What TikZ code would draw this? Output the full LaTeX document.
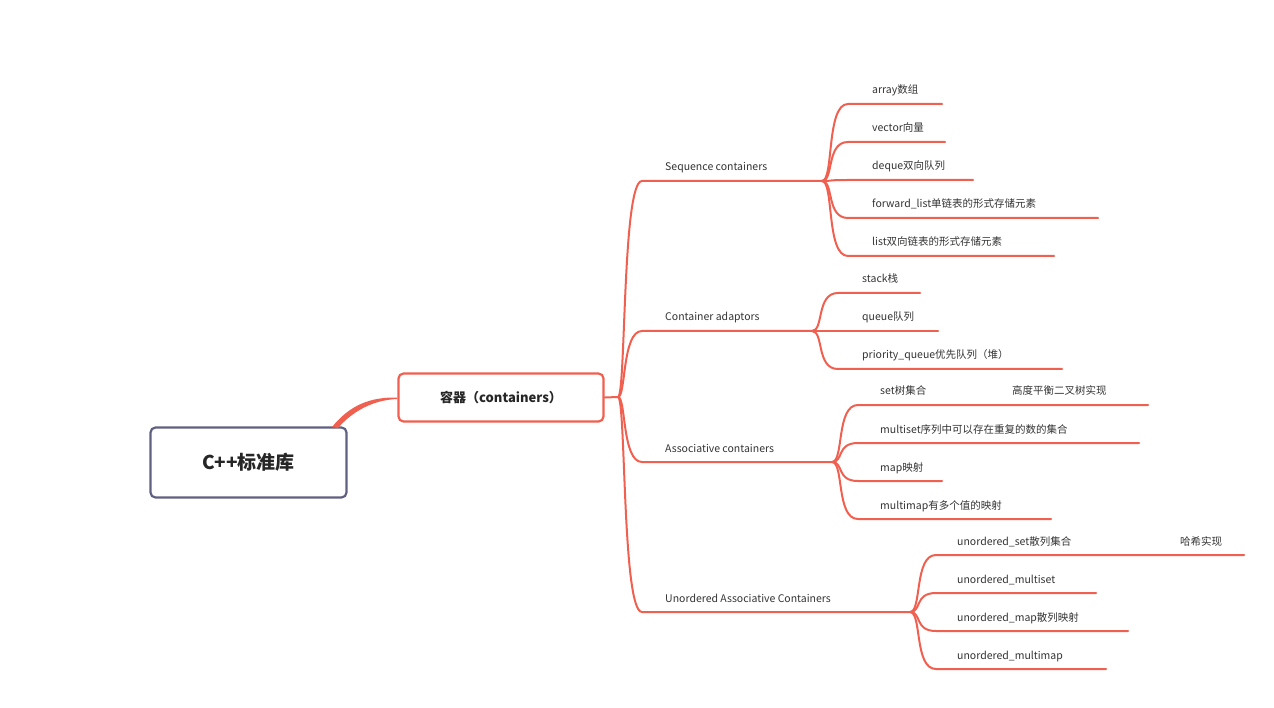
\documentclass[tikz,border=0pt]{standalone}
\usepackage{fontspec}
\setmainfont{Noto Sans CJK SC}
\begin{document}
\begin{tikzpicture}[x=1pt,y=-1pt,
  lbl/.style={anchor=base west,inner sep=0pt,font=\fontsize{10.5}{12}\selectfont,text=black!80}]
\definecolor{brc}{RGB}{240,96,80}
\tikzset{br/.style={draw=brc,line width=2pt,line cap=round}}
\useasboundingbox (0,0) rectangle (1274,708);
% root
\node[draw=black!45!blue!25!gray,line width=2.2pt,rounded corners=5pt,minimum width=196pt,minimum height=70pt,font=\fontsize{19}{22}\bfseries\selectfont,text=black!85] (root) at (248.5,462.5) {C++标准库};
\node[draw=brc,line width=2.2pt,rounded corners=5pt,minimum width=205pt,minimum height=48pt,font=\fontsize{13}{15}\bfseries\selectfont,text=black!85] (cont) at (501,397.5) {容器（containers）};
\fill[brc] (332,427) .. controls (350,405) and (370,397) .. (cont.west) -- ++(0,1.5) .. controls (372,400) and (352,412) .. (338,428) -- cycle;
\coordinate (hub) at (618,397);
\draw[br] (cont.east) -- (hub);
% level 2
\foreach \n/\t/\y/\e in {seq/Sequence containers/181/822, ada/Container adaptors/331/812, ass/Associative containers/462/832, uno/Unordered Associative Containers/612/910}{
  \coordinate (\n) at (\e,\y);
  \node[lbl] (\n t) at (665,\y-10) {\t};
  \draw[br] (hub) .. controls (626,397) and (622,\y) .. (642,\y) -- (\n);
}
% leaves
\foreach \px/\py/\x/\n/\t/\y/\e in {
 822/181/872/s1/array数组/104/942, 822/181/872/s2/vector向量/142/945, 822/181/872/s3/deque双向队列/180/973,
 822/181/872/s4/forward\_list单链表的形式存储元素/218/1098, 822/181/872/s5/list双向链表的形式存储元素/256/1054,
 812/331/862/a1/stack栈/293/920, 812/331/862/a2/queue队列/331/938, 812/331/862/a3/priority\_queue优先队列（堆）/369/1062,
 832/462/880/b1/set树集合/405/1148, 832/462/880/b2/multiset序列中可以存在重复的数的集合/443/1139, 832/462/880/b3/map映射/481/942, 832/462/880/b4/multimap有多个值的映射/519/1051,
 910/612/957/u1/unordered\_set散列集合/555/1244, 910/612/957/u2/unordered\_multiset/593/1096, 910/612/957/u3/unordered\_map散列映射/631/1128, 910/612/957/u4/unordered\_multimap/669/1106}{
  \coordinate (\n) at (\e,\y);
  \node[lbl] (\n t) at (\x,\y-10) {\t};
  \draw[br] (\px,\py) .. controls (\px+12,\py) and (\px+4,\y) .. (\px+26,\y) -- (\n);
}
\node[lbl] (b1x) at (1012,395) {高度平衡二叉树实现};
\node[lbl] (u1x) at (1180,545) {哈希实现};
\end{tikzpicture}
\end{document}
